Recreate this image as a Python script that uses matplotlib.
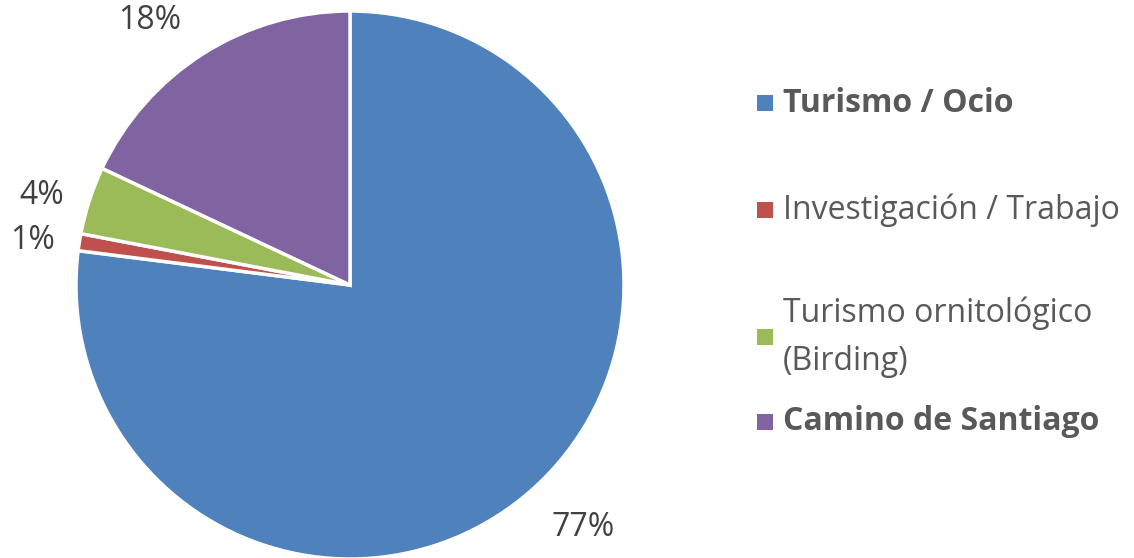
import matplotlib.pyplot as plt
from matplotlib.patches import Rectangle

plt.rcParams['font.family'] = ['Open Sans', 'DejaVu Sans']

# datos
categorias = ["Turismo / Ocio", "Investigación / Trabajo",
              "Turismo ornitológico\n(Birding)", "Camino de Santiago"]
valores = [77, 1, 4, 18]
colores = ["#4F81BD", "#C0504D", "#9BBB59", "#8064A2"]
negrita = [True, False, False, True]

# posiciones de las etiquetas (en unidades del radio)
pos_etiquetas = [(0.85, -0.885), (-1.157, 0.164), (-1.124, 0.328), (-0.73, 0.967)]

W, H = 1134, 558
fig = plt.figure(figsize=(W / 100, H / 100), dpi=100)

# pie: centro (350, 285) px, radio 274 px
cx, cy, r = 350, 285, 274
ax = fig.add_axes([(cx - r) / W, (H - cy - r) / H, 2 * r / W, 2 * r / H])
wedges, textos = ax.pie(valores, colors=colores, startangle=90, counterclock=False,
                        labels=[f"{v}%" for v in valores],
                        wedgeprops=dict(edgecolor="white", linewidth=2.5),
                        textprops=dict(fontsize=23, color="#404040"))
for t, p in zip(textos, pos_etiquetas):
    t.set_position(p)
    t.set_ha("center")
    t.set_va("center")
ax.set_xlim(-1, 1)
ax.set_ylim(-1, 1)
ax.set_aspect("equal")
ax.axis("off")

# leyenda manual
ys = [103, 210, 337, 422]
for cat, col, b, y in zip(categorias, colores, negrita, ys):
    fig.patches.append(Rectangle((757 / W, (H - y - 8) / H), 16 / W, 16 / H,
                                 transform=fig.transFigure, facecolor=col,
                                 edgecolor="none"))
    fig.text(783 / W, (H - y) / H, cat, fontsize=23, color="#595959",
             fontweight="bold" if b else "normal", va="center", ha="left",
             linespacing=1.6)

fig.savefig("out.png", dpi=100)
